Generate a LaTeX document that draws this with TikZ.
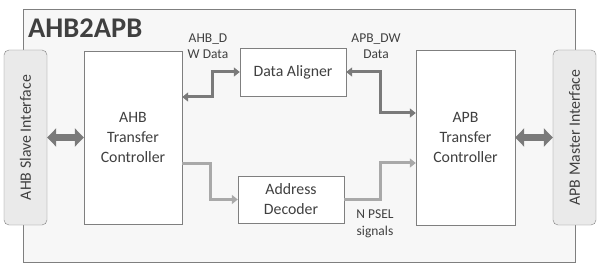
\documentclass[tikz,border=0pt]{standalone}
\usepackage{fontspec}
\setmainfont{Carlito}
\usetikzlibrary{arrows.meta,positioning,calc}
\definecolor{txtgray}{HTML}{404040}
\definecolor{linegray}{HTML}{7F7F7F}
\definecolor{datagray}{HTML}{7A7A7A}
\definecolor{addrgray}{HTML}{A9A9A9}
\definecolor{ifgray}{HTML}{EAEAEA}
\definecolor{bggray}{HTML}{F7F7F7}

\begin{document}
\begin{tikzpicture}[x=1pt,y=-1pt,>=Triangle,
 every node/.style={text=txtgray,font=\fontsize{15.8}{20}\selectfont,align=center},
 block/.style={draw=linegray,fill=white,inner sep=0pt},
 iface/.style={draw=linegray,fill=ifgray,rounded corners=5pt,minimum width=43pt,
  minimum height=175pt,inner sep=0pt},
 sig/.style={font=\fontsize{13.5}{16.5}\selectfont},
 databus/.style={draw=datagray,line width=3pt,{Triangle[length=6pt,width=9pt]}-{Triangle[length=6pt,width=9pt]}},
 addrbus/.style={draw=addrgray,line width=3pt,-{Triangle[length=6pt,width=9pt]}},
 fat/.style={draw=datagray,line width=7pt,{Triangle[length=9pt,width=18pt]}-{Triangle[length=9pt,width=18pt]}}]
 \useasboundingbox (0,0) rectangle (600,267);
 % outer frame
 \draw[draw=linegray,fill=bggray] (23,9) rectangle (575,262);
 \node[anchor=base west,inner sep=0pt,font=\fontsize{28.5}{32}\selectfont\bfseries] (title) at (28,37.5) {AHB2APB};
 % interfaces
 \node[iface] (slave) at (25.5,137.5) {\rotatebox{90}{AHB Slave Interface}};
 \node[iface] (master) at (574.5,137.5) {\rotatebox{90}{APB Master Interface}};
 % blocks
 \node[block,minimum width=98pt,minimum height=173pt] (ahb) at (133,137.5) {AHB\\Transfer\\Controller};
 \node[block,minimum width=99pt,minimum height=175pt] (apb) at (465.5,137.5) {APB\\Transfer\\Controller};
 \node[block,minimum width=106pt,minimum height=48pt] (aligner) at (293,72) {Data Aligner};
 \node[block,minimum width=106pt,minimum height=47pt] (decoder) at (291,199.5) {Address\\Decoder};
 % buses
 \draw[fat] (slave.east) -- (ahb.west);
 \draw[fat] (apb.east) -- (master.west);
 \draw[databus] ([yshift=40.5pt]ahb.east) -- ++(30,0) |- (aligner.west);
 \draw[databus] (aligner.east) -- ++(34,0) |- ([yshift=24.5pt]apb.west);
 \draw[addrbus] ([yshift=-26.5pt]ahb.east) -- ++(28,0) |- (decoder.west);
 \draw[addrbus] (decoder.east) -- ++(36,0) |- ([yshift=-25.5pt]apb.west);
 % labels
 \node[sig] (dwahb) at (208,46) {AHB\_D\\W Data};
 \node[sig] (dwapb) at (376,46) {APB\_DW\\Data};
 \node[sig] (psel) at (375,224) {N PSEL\\signals};
\end{tikzpicture}
\end{document}
